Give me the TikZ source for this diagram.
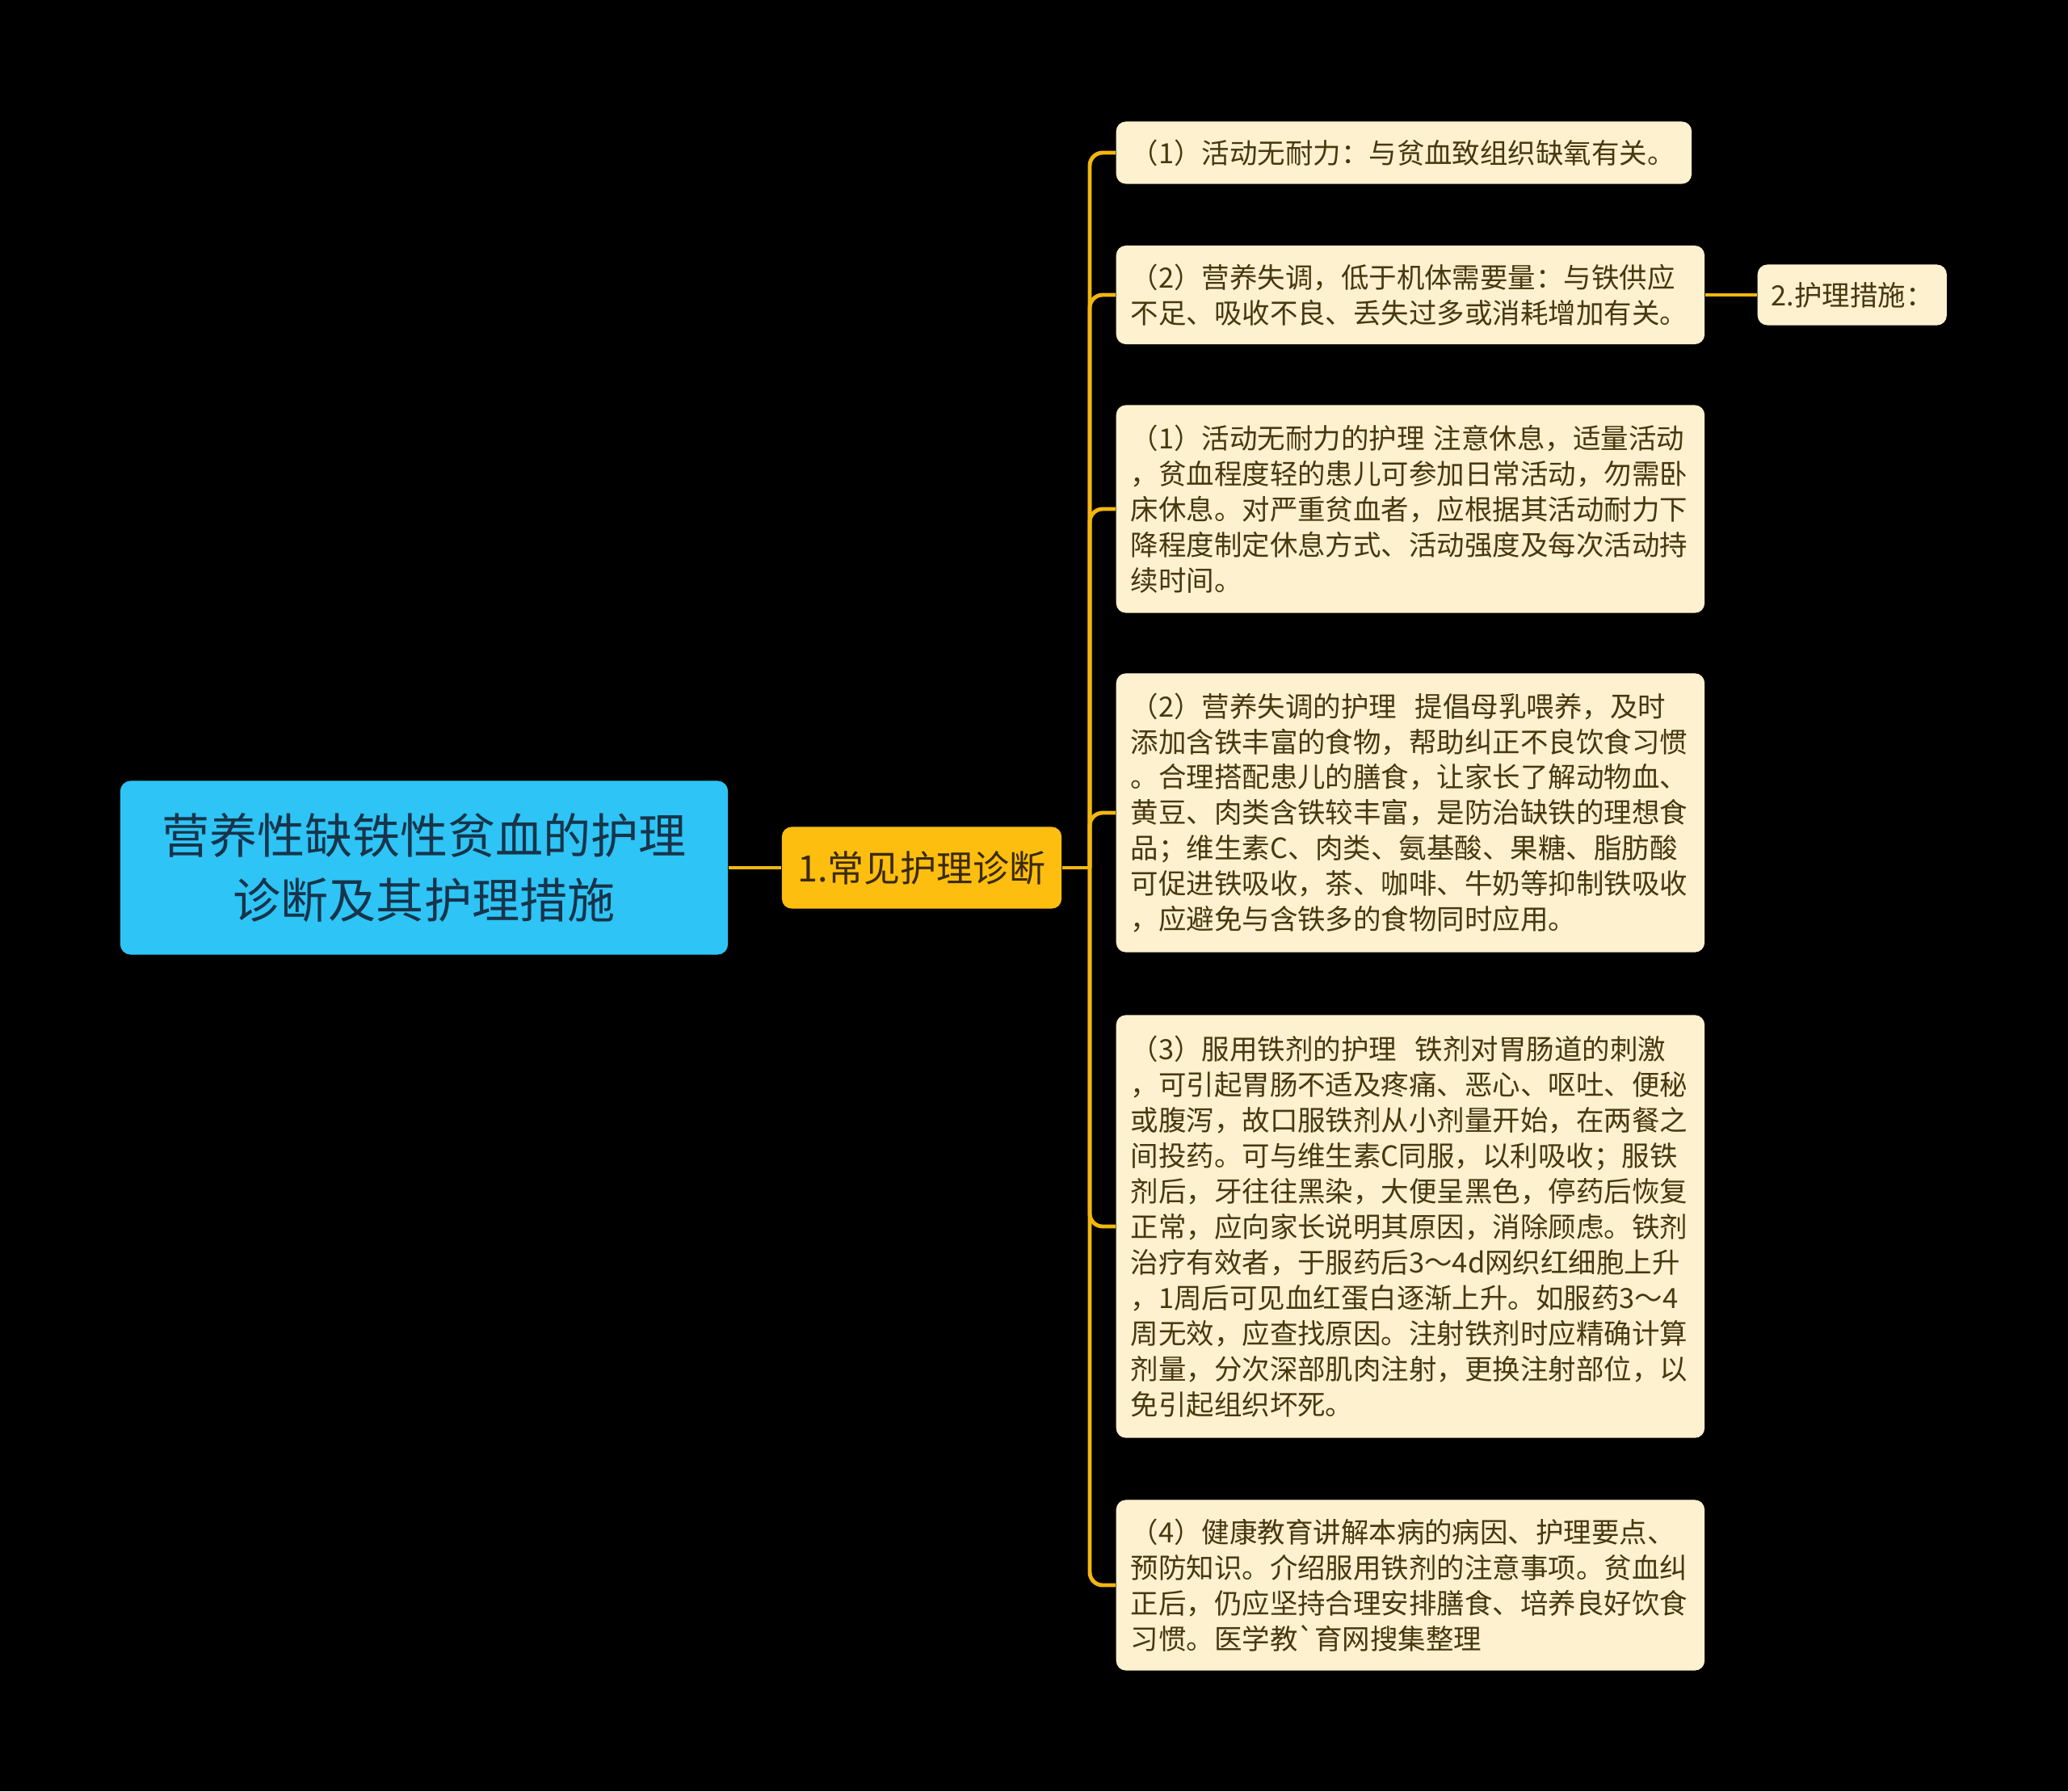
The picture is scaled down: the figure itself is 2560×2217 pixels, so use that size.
\documentclass[tikz,border=0pt]{standalone}
\usepackage{fontspec}
\setmainfont{Noto Sans CJK SC}

\definecolor{rootblue}{HTML}{2EC4F5}
\definecolor{roottext}{HTML}{17344A}
\definecolor{topicgold}{HTML}{FDBE10}
\definecolor{topictext}{HTML}{3B2A05}
\definecolor{leafcream}{HTML}{FDF1CF}
\definecolor{leaftext}{HTML}{47380F}
\definecolor{linegold}{HTML}{F2B70F}

\tikzset{
  rootbox/.style={fill=rootblue, text=roottext, rounded corners=0.13cm, align=center,
    minimum width=7.52cm, minimum height=2.15cm, font=\fontsize{16.8}{22.7}\selectfont},
  topicbox/.style={fill=topicgold, text=topictext, rounded corners=0.12cm,
    minimum width=3.46cm, minimum height=1.01cm, font=\fontsize{12.8}{15}\selectfont},
  leafbox/.style={fill=leafcream, text=leaftext, rounded corners=0.12cm, anchor=west,
    align=left, text width=6.92cm, inner xsep=0.18cm, inner ysep=0.17cm,
    font=\fontsize{9.8}{12.5}\selectfont},
  branch/.style={draw=linegold, line width=1.4pt, rounded corners=0.16cm},
}

\begin{document}
\begin{tikzpicture}[x=0.01cm,y=-0.01cm]
\fill [black] (0,0) rectangle (2560,2217);
\useasboundingbox (0,0) rectangle (2560,2217);
% main topic and first branch
\node [rootbox] (root) at (525,1074) {营养性缺铁性贫血的护理\\诊断及其护理措施};
\node [topicbox] (diag) at (1141,1074) {1.常见护理诊断};
\coordinate (fork) at (1349,1074);
% leaves
\node [leafbox, text width=6.76cm, minimum height=0.77cm] (d1) at (1381,189)
  {（1）活动无耐力：与贫血致组织缺氧有关。};
\node [leafbox, minimum height=1.22cm] (d2) at (1381,365)
  {（2）营养失调，低于机体需要量：与铁供应\\不足、吸收不良、丢失过多或消耗增加有关。};
\node [leafbox, text width=2.0cm, inner xsep=0.17cm, minimum height=0.75cm] (plan) at (2175,365)
  {2.护理措施：};
\node [leafbox, minimum height=2.57cm] (m1) at (1381,630)
  {（1）活动无耐力的护理 注意休息，适量活动\\，贫血程度轻的患儿可参加日常活动，勿需卧\\床休息。对严重贫血者，应根据其活动耐力下\\降程度制定休息方式、活动强度及每次活动持\\续时间。};
\node [leafbox, minimum height=3.45cm] (m2) at (1381,1006)
  {（2）营养失调的护理~~提倡母乳喂养，及时\\添加含铁丰富的食物，帮助纠正不良饮食习惯\\。合理搭配患儿的膳食，让家长了解动物血、\\黄豆、肉类含铁较丰富，是防治缺铁的理想食\\品；维生素C、肉类、氨基酸、果糖、脂肪酸\\可促进铁吸收，茶、咖啡、牛奶等抑制铁吸收\\，应避免与含铁多的食物同时应用。};
\node [leafbox, minimum height=5.23cm] (m3) at (1381,1518)
  {（3）服用铁剂的护理~~铁剂对胃肠道的刺激\\，可引起胃肠不适及疼痛、恶心、呕吐、便秘\\或腹泻，故口服铁剂从小剂量开始，在两餐之\\间投药。可与维生素C同服，以利吸收；服铁\\剂后，牙往往黑染，大便呈黑色，停药后恢复\\正常，应向家长说明其原因，消除顾虑。铁剂\\治疗有效者，于服药后3～4d网织红细胞上升\\，1周后可见血红蛋白逐渐上升。如服药3～4\\周无效，应查找原因。注射铁剂时应精确计算\\剂量，分次深部肌肉注射，更换注射部位，以\\免引起组织坏死。};
\node [leafbox, minimum height=2.11cm] (m4) at (1381,1962)
  {（4）健康教育讲解本病的病因、护理要点、\\预防知识。介绍服用铁剂的注意事项。贫血纠\\正后，仍应坚持合理安排膳食、培养良好饮食\\习惯。医学教\textasciigrave 育网搜集整理};
% connectors
\draw [branch] (root.east) -- (diag.west);
\draw [branch] (diag.east) -- (fork);
\foreach \leaf in {d1,d2,m1,m2,m3,m4}
  \draw [branch] (fork) |- (\leaf.west);
\draw [branch] (d2.east) -- (plan.west);
\end{tikzpicture}
\end{document}
